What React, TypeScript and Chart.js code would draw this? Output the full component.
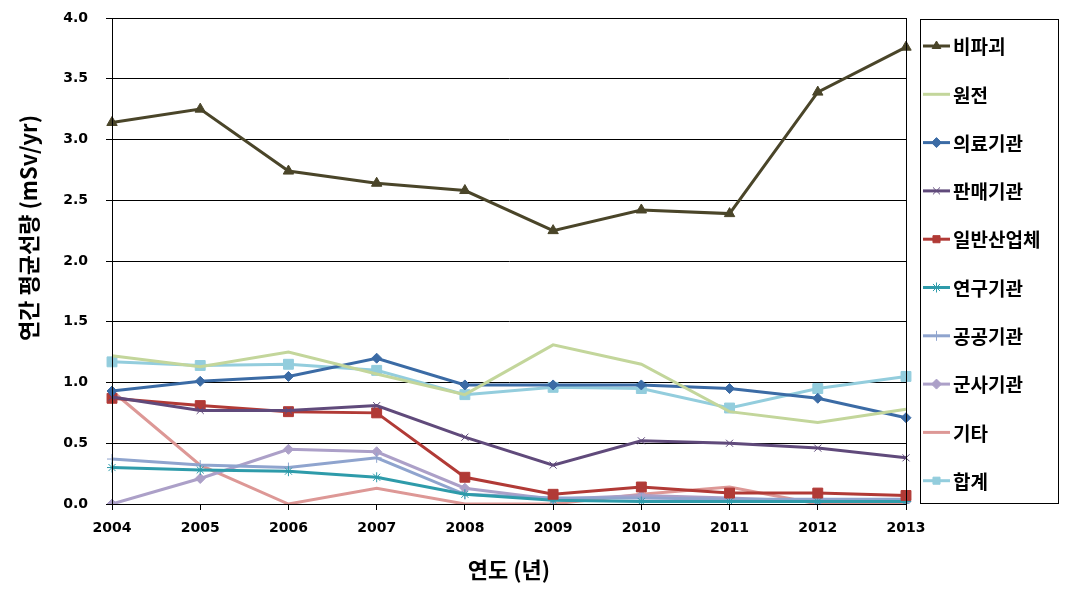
import React, { useEffect, useRef } from "react";
import { Chart, registerables } from "chart.js";
import { drawPoint } from "chart.js/helpers";

Chart.register(...registerables);

const years = ["2004", "2005", "2006", "2007", "2008", "2009", "2010", "2011", "2012", "2013"];

const ndt = [3.14, 3.25, 2.74, 2.64, 2.58, 2.25, 2.42, 2.39, 3.39, 3.76];
const nuclear = [1.22, 1.13, 1.25, 1.07, 0.9, 1.31, 1.15, 0.76, 0.67, 0.78];
const medical = [0.93, 1.01, 1.05, 1.2, 0.98, 0.98, 0.98, 0.95, 0.87, 0.71];
const sales = [0.88, 0.77, 0.77, 0.81, 0.55, 0.32, 0.52, 0.5, 0.46, 0.38];
const industry = [0.87, 0.81, 0.76, 0.75, 0.22, 0.08, 0.14, 0.09, 0.09, 0.07];
const research = [0.3, 0.28, 0.27, 0.22, 0.08, 0.03, 0.02, 0.02, 0.02, 0.02];
const publicInst = [0.37, 0.32, 0.3, 0.38, 0.08, 0.05, 0.05, 0.04, 0.04, 0.04];
const military = [0.0, 0.21, 0.45, 0.43, 0.13, 0.04, 0.07, 0.05, 0.02, 0.02];
const others = [0.93, 0.32, 0.0, 0.13, 0.0, 0.0, 0.08, 0.14, 0.0, 0.0];
const total = [1.17, 1.14, 1.15, 1.1, 0.9, 0.96, 0.95, 0.79, 0.95, 1.05];

const seriesNames = ["비파괴", "원전", "의료기관", "판매기관", "일반산업체", "연구기관", "공공기관", "군사기관", "기타", "합계"];
const seriesData = [ndt, nuclear, medical, sales, industry, research, publicInst, military, others, total];
const seriesColors = ["#4A4529", "#C3D69B", "#3B6BA5", "#604A7B", "#B13A36", "#2E9BAA", "#8FA4CE", "#ACA0C8", "#DD9896", "#93CDDD"];
const seriesMarkers: (string | false)[] = ["triangle", false, "rectRot", "crossRot", "rect", "star", "cross", "rectRot", false, "rect"];
const seriesRadius = [6, 0, 5, 5, 7, 5, 5, 5, 0, 7];

const yTicks = [0, 0.5, 1, 1.5, 2, 2.5, 3, 3.5, 4];
const yTitle = "연간 평균선량 (mSv/yr)";
const xTitle = "연도 (년)";

const KFONT = '"Noto Sans CJK KR", "Noto Sans", sans-serif';
const NFONT = '"DejaVu Sans", sans-serif';

const decoPlugin = {
  id: "deco",
  afterDraw(chart: any) {
    const ctx = chart.ctx;
    const a = chart.chartArea;
    ctx.save();
    // plot border
    ctx.strokeStyle = "#000";
    ctx.lineWidth = 1;
    ctx.strokeRect(Math.round(a.left) + 0.5, Math.round(a.top) + 0.5, Math.round(a.right - a.left), Math.round(a.bottom - a.top));
    // y title
    ctx.fillStyle = "#000";
    ctx.font = `bold 22px ${KFONT}`;
    ctx.textAlign = "center";
    ctx.textBaseline = "middle";
    ctx.save();
    ctx.translate(29, 228);
    ctx.rotate(-Math.PI / 2);
    ctx.fillText(yTitle, 0, 0);
    ctx.restore();
    // x title
    ctx.fillText(xTitle, 509, 570);
    // legend box
    const lx = 920, ly = 19, lw = 138, lh = 484;
    ctx.strokeStyle = "#000";
    ctx.lineWidth = 1;
    ctx.strokeRect(lx + 0.5, ly + 0.5, lw, lh);
    const step = 48.3;
    ctx.font = `bold 19px ${KFONT}`;
    ctx.textAlign = "left";
    for (let i = 0; i < seriesNames.length; i++) {
      const y = 46 + i * step;
      ctx.strokeStyle = seriesColors[i];
      ctx.lineWidth = 3;
      ctx.beginPath();
      ctx.moveTo(923, y);
      ctx.lineTo(950, y);
      ctx.stroke();
      const m = seriesMarkers[i];
      if (m) {
        ctx.fillStyle = seriesColors[i];
        ctx.strokeStyle = seriesColors[i];
        ctx.lineWidth = 1;
        drawPoint(ctx, { pointStyle: m as any, radius: Math.min(seriesRadius[i], 5), rotation: 0, borderWidth: 1 }, 936.5, y);
      }
      ctx.fillStyle = "#000";
      ctx.fillText(seriesNames[i], 953, y + 1);
    }
    ctx.restore();
  },
};

export default function App() {
  const ref = useRef<HTMLCanvasElement | null>(null);
  useEffect(() => {
    document.body.style.margin = "0";
    const canvas = ref.current!;
    const chart = new Chart(canvas, {
      type: "line",
      data: {
        labels: years,
        datasets: seriesNames.map((name, i) => ({
          label: name,
          data: seriesData[i],
          borderColor: seriesColors[i],
          backgroundColor: seriesColors[i],
          borderWidth: 3,
          pointStyle: (seriesMarkers[i] || "circle") as any,
          pointRadius: seriesRadius[i],
          pointBorderWidth: 1,
          pointBorderColor: seriesColors[i],
          pointBackgroundColor: seriesColors[i],
          tension: 0,
          fill: false,
        })),
      },
      options: {
        animation: false,
        responsive: false,
        maintainAspectRatio: false,
        layout: { padding: { left: 0, top: 18, right: 163, bottom: 0 } },
        plugins: {
          legend: { display: false },
          tooltip: { enabled: false },
        },
        scales: {
          x: {
            type: "category",
            offset: false,
            grid: { drawOnChartArea: false, drawTicks: true, tickLength: 6, color: "#000" },
            border: { color: "#000", width: 1 },
            ticks: { color: "#000", font: { family: NFONT, size: 14, weight: "bold" }, padding: 10, maxRotation: 0 },
            afterFit: (s: any) => { s.height = 87; s.paddingLeft = 0; s.paddingRight = 0; },
          },
          y: {
            min: 0,
            max: 4,
            afterBuildTicks: (s: any) => { s.ticks = yTicks.map((v) => ({ value: v })); },
            grid: { color: "#000", tickLength: 6, drawTicks: true },
            border: { color: "#000", width: 1 },
            ticks: {
              color: "#000",
              font: { family: NFONT, size: 14, weight: "bold" },
              padding: 18,
              callback: (v: any) => Number(v).toFixed(1),
            },
            afterFit: (s: any) => { s.width = 112; s.paddingTop = 0; s.paddingBottom = 0; },
          },
        },
      } as any,
      plugins: [decoPlugin],
    });
    return () => chart.destroy();
  }, []);
  return (
    <div style={{ position: "absolute", left: 0, top: 0, width: 1069, height: 591, background: "#fff" }}>
      <canvas ref={ref} width={1069} height={591} style={{ width: 1069, height: 591 }} />
    </div>
  );
}
